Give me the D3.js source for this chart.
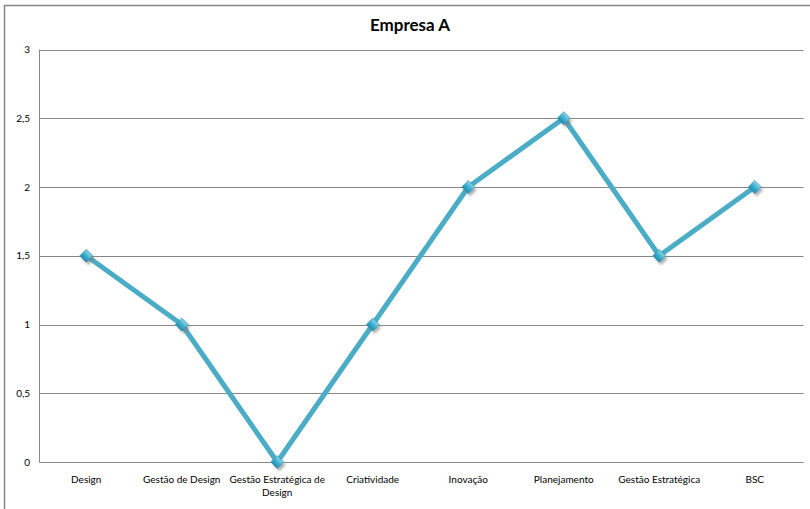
<!DOCTYPE html>
<html><head><meta charset="utf-8">
<script src="https://cdn.jsdelivr.net/npm/d3@7"></script>
<style>
html,body{margin:0;padding:0;background:#fff;}
svg{display:block;}
text{font-family:"Lato","Noto Sans",sans-serif;}
</style></head>
<body>
<script>
const categories = ["Design","Gestão de Design","Gestão Estratégica de Design","Criatividade","Inovação","Planejamento","Gestão Estratégica","BSC"];
const values = [1.5,1,0,1,2,2.5,1.5,2];
const yTicks = [0,0.5,1,1.5,2,2.5,3];
const title = "Empresa A";

const W = 810, H = 509;
const svg = d3.select("body").append("svg").attr("width", W).attr("height", H);

// outer chart border (extends past right/bottom edge)
svg.append("rect").attr("x",4.5).attr("y",5.5).attr("width",820).attr("height",520)
  .attr("fill","#fff").attr("stroke","#868686").attr("stroke-width",1.5);

const plot = {left:39.5, right:803.5, top:49.5, bottom:462};
const x = d3.scaleBand().domain(categories).range([plot.left-1, plot.right-1]);
const y = d3.scaleLinear().domain([0,3]).range([plot.bottom, plot.top]);

// gridlines
svg.append("g").selectAll("line").data(yTicks).join("line")
  .attr("x1",plot.left).attr("x2",plot.right)
  .attr("y1",d=>Math.round(y(d))+0.5).attr("y2",d=>Math.round(y(d))+0.5)
  .attr("stroke","#868686").attr("stroke-width",1);

// vertical axis line
svg.append("line").attr("x1",plot.left).attr("x2",plot.left)
  .attr("y1",plot.top).attr("y2",plot.bottom+0.5).attr("stroke","#868686");

// y tick labels
const fmt = d => String(d).replace(".", ",");
svg.append("g").selectAll("text").data(yTicks).join("text")
  .attr("x",30).attr("y",d=>y(d)).attr("dy","0.35em")
  .attr("text-anchor","end").attr("font-size",10).attr("fill","#000")
  .text(fmt);

// x labels (wrap)
const xl = svg.append("g").selectAll("text").data(categories).join("text")
  .attr("x",d=>x(d)+x.bandwidth()/2).attr("y",483)
  .attr("text-anchor","middle").attr("font-size",10).attr("fill","#000");
xl.each(function(d){
  const t = d3.select(this);
  if (d === "Gestão Estratégica de Design") {
    t.append("tspan").attr("x",x(d)+x.bandwidth()/2).text("Gestão Estratégica de");
    t.append("tspan").attr("x",x(d)+x.bandwidth()/2).attr("dy",13).text("Design");
  } else t.text(d);
});

// title
svg.append("text").attr("x",410).attr("y",31).attr("text-anchor","middle")
  .attr("font-size",17).attr("font-weight","bold").attr("fill","#000").text(title);

// defs
const defs = svg.append("defs");
const grad = defs.append("linearGradient").attr("id","mg").attr("x1","0").attr("y1","0").attr("x2","0").attr("y2","1");
grad.append("stop").attr("offset","0").attr("stop-color","#8fd3e6");
grad.append("stop").attr("offset","0.5").attr("stop-color","#3fb0cf");
grad.append("stop").attr("offset","1").attr("stop-color","#1f8fb0");
const blur = defs.append("filter").attr("id","sh").attr("x","-50%").attr("y","-50%").attr("width","200%").attr("height","200%");
blur.append("feGaussianBlur").attr("stdDeviation",1.2);

const cx = d => x(d)+x.bandwidth()/2;
const pts = categories.map((c,i)=>[cx(c), y(values[i])]);

// line
const line = d3.line();
svg.append("path").attr("d",line(pts)).attr("fill","none")
  .attr("stroke","#4BACC6").attr("stroke-width",5).attr("stroke-linejoin","round");

// markers
const mk = svg.append("g").selectAll("g").data(pts).join("g")
  .attr("transform",d=>`translate(${d[0]},${d[1]})`);
mk.append("path").attr("d",d3.symbol().type(d3.symbolSquare).size(80)())
  .attr("transform","translate(2,3) rotate(45)").attr("fill","#7a7a7a").attr("opacity",0.6).attr("filter","url(#sh)");
mk.append("path").attr("d",d3.symbol().type(d3.symbolSquare).size(84)())
  .attr("transform","rotate(45)").attr("fill","url(#mg)").attr("stroke","#2a8fae").attr("stroke-width",0.6);
</script>
</body></html>
